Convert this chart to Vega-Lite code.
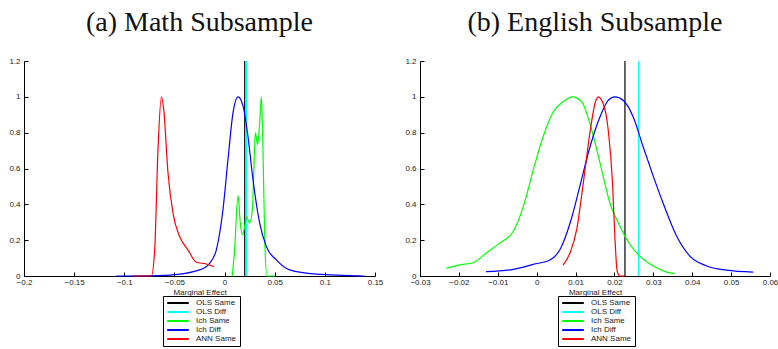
{
  "$schema": "https://vega.github.io/schema/vega-lite/v6.json",
  "padding": {"left": 8, "top": 9, "right": 2, "bottom": 0},
  "background": "white",
  "datasets": {
    "vlines": [
      {"p": "a", "s": "OLS Same", "x": 0.0201},
      {"p": "a", "s": "OLS Diff", "x": 0.0218},
      {"p": "b", "s": "OLS Same", "x": 0.0227},
      {"p": "b", "s": "OLS Diff", "x": 0.0262}
    ],
    "curves": [
      {"p": "a", "s": "Ich Same", "x": 0.0077, "y": 0},
      {"p": "a", "s": "Ich Same", "x": 0.0100, "y": 0.146},
      {"p": "a", "s": "Ich Same", "x": 0.0134, "y": 0.45},
      {"p": "a", "s": "Ich Same", "x": 0.0157, "y": 0.295},
      {"p": "a", "s": "Ich Same", "x": 0.0177, "y": 0.23},
      {"p": "a", "s": "Ich Same", "x": 0.0200, "y": 0.276},
      {"p": "a", "s": "Ich Same", "x": 0.0217, "y": 0.332},
      {"p": "a", "s": "Ich Same", "x": 0.0250, "y": 0.295},
      {"p": "a", "s": "Ich Same", "x": 0.0277, "y": 0.37},
      {"p": "a", "s": "Ich Same", "x": 0.0290, "y": 0.556},
      {"p": "a", "s": "Ich Same", "x": 0.0307, "y": 0.8},
      {"p": "a", "s": "Ich Same", "x": 0.0330, "y": 0.733},
      {"p": "a", "s": "Ich Same", "x": 0.0350, "y": 0.855},
      {"p": "a", "s": "Ich Same", "x": 0.0367, "y": 1.0},
      {"p": "a", "s": "Ich Same", "x": 0.0383, "y": 0.705},
      {"p": "a", "s": "Ich Same", "x": 0.0400, "y": 0.22},
      {"p": "a", "s": "Ich Same", "x": 0.0423, "y": 0},
      {"p": "a", "s": "Ich Same", "x": 0.0500, "y": 0},
      {"p": "a", "s": "Ich Diff", "x": -0.108, "y": 0},
      {"p": "a", "s": "Ich Diff", "x": -0.058, "y": 0.004},
      {"p": "a", "s": "Ich Diff", "x": -0.0248, "y": 0.034},
      {"p": "a", "s": "Ich Diff", "x": -0.0149, "y": 0.071},
      {"p": "a", "s": "Ich Diff", "x": -0.0082, "y": 0.146},
      {"p": "a", "s": "Ich Diff", "x": -0.0016, "y": 0.37},
      {"p": "a", "s": "Ich Diff", "x": 0.0034, "y": 0.65},
      {"p": "a", "s": "Ich Diff", "x": 0.0084, "y": 0.91},
      {"p": "a", "s": "Ich Diff", "x": 0.0134, "y": 1.0},
      {"p": "a", "s": "Ich Diff", "x": 0.0184, "y": 0.95},
      {"p": "a", "s": "Ich Diff", "x": 0.0233, "y": 0.78},
      {"p": "a", "s": "Ich Diff", "x": 0.0283, "y": 0.54},
      {"p": "a", "s": "Ich Diff", "x": 0.0350, "y": 0.295},
      {"p": "a", "s": "Ich Diff", "x": 0.0417, "y": 0.164},
      {"p": "a", "s": "Ich Diff", "x": 0.0516, "y": 0.09},
      {"p": "a", "s": "Ich Diff", "x": 0.0650, "y": 0.034},
      {"p": "a", "s": "Ich Diff", "x": 0.0915, "y": 0.01},
      {"p": "a", "s": "Ich Diff", "x": 0.1397, "y": 0},
      {"p": "a", "s": "ANN Same", "x": -0.0913, "y": 0},
      {"p": "a", "s": "ANN Same", "x": -0.0730, "y": 0},
      {"p": "a", "s": "ANN Same", "x": -0.0697, "y": 0.146},
      {"p": "a", "s": "ANN Same", "x": -0.0664, "y": 0.705},
      {"p": "a", "s": "ANN Same", "x": -0.0630, "y": 1.0},
      {"p": "a", "s": "ANN Same", "x": -0.0607, "y": 0.93},
      {"p": "a", "s": "ANN Same", "x": -0.0564, "y": 0.575},
      {"p": "a", "s": "ANN Same", "x": -0.0514, "y": 0.35},
      {"p": "a", "s": "ANN Same", "x": -0.0448, "y": 0.22},
      {"p": "a", "s": "ANN Same", "x": -0.0365, "y": 0.146},
      {"p": "a", "s": "ANN Same", "x": -0.0281, "y": 0.077},
      {"p": "a", "s": "ANN Same", "x": -0.0182, "y": 0.067},
      {"p": "a", "s": "ANN Same", "x": -0.0106, "y": 0.052},
      {"p": "b", "s": "Ich Same", "x": -0.0233, "y": 0.043},
      {"p": "b", "s": "Ich Same", "x": -0.0201, "y": 0.061},
      {"p": "b", "s": "Ich Same", "x": -0.0163, "y": 0.074},
      {"p": "b", "s": "Ich Same", "x": -0.0129, "y": 0.13},
      {"p": "b", "s": "Ich Same", "x": -0.0094, "y": 0.185},
      {"p": "b", "s": "Ich Same", "x": -0.0060, "y": 0.25},
      {"p": "b", "s": "Ich Same", "x": -0.0034, "y": 0.39},
      {"p": "b", "s": "Ich Same", "x": -0.0009, "y": 0.59},
      {"p": "b", "s": "Ich Same", "x": 0.0017, "y": 0.78},
      {"p": "b", "s": "Ich Same", "x": 0.0043, "y": 0.917},
      {"p": "b", "s": "Ich Same", "x": 0.0068, "y": 0.972},
      {"p": "b", "s": "Ich Same", "x": 0.0092, "y": 1.0},
      {"p": "b", "s": "Ich Same", "x": 0.0116, "y": 0.972},
      {"p": "b", "s": "Ich Same", "x": 0.0137, "y": 0.85},
      {"p": "b", "s": "Ich Same", "x": 0.0163, "y": 0.63},
      {"p": "b", "s": "Ich Same", "x": 0.0188, "y": 0.41},
      {"p": "b", "s": "Ich Same", "x": 0.0214, "y": 0.278},
      {"p": "b", "s": "Ich Same", "x": 0.0240, "y": 0.176},
      {"p": "b", "s": "Ich Same", "x": 0.0265, "y": 0.111},
      {"p": "b", "s": "Ich Same", "x": 0.0300, "y": 0.056},
      {"p": "b", "s": "Ich Same", "x": 0.0334, "y": 0.022},
      {"p": "b", "s": "Ich Same", "x": 0.0355, "y": 0.013},
      {"p": "b", "s": "Ich Diff", "x": -0.0130, "y": 0.024},
      {"p": "b", "s": "Ich Diff", "x": -0.0060, "y": 0.037},
      {"p": "b", "s": "Ich Diff", "x": -0.0009, "y": 0.065},
      {"p": "b", "s": "Ich Diff", "x": 0.0034, "y": 0.089},
      {"p": "b", "s": "Ich Diff", "x": 0.0060, "y": 0.148},
      {"p": "b", "s": "Ich Diff", "x": 0.0086, "y": 0.296},
      {"p": "b", "s": "Ich Diff", "x": 0.0111, "y": 0.5},
      {"p": "b", "s": "Ich Diff", "x": 0.0137, "y": 0.72},
      {"p": "b", "s": "Ich Diff", "x": 0.0163, "y": 0.889},
      {"p": "b", "s": "Ich Diff", "x": 0.0184, "y": 0.98},
      {"p": "b", "s": "Ich Diff", "x": 0.0201, "y": 1.0},
      {"p": "b", "s": "Ich Diff", "x": 0.0223, "y": 0.98},
      {"p": "b", "s": "Ich Diff", "x": 0.0248, "y": 0.889},
      {"p": "b", "s": "Ich Diff", "x": 0.0274, "y": 0.72},
      {"p": "b", "s": "Ich Diff", "x": 0.0300, "y": 0.556},
      {"p": "b", "s": "Ich Diff", "x": 0.0325, "y": 0.407},
      {"p": "b", "s": "Ich Diff", "x": 0.0360, "y": 0.222},
      {"p": "b", "s": "Ich Diff", "x": 0.0394, "y": 0.111},
      {"p": "b", "s": "Ich Diff", "x": 0.0437, "y": 0.056},
      {"p": "b", "s": "Ich Diff", "x": 0.0488, "y": 0.033},
      {"p": "b", "s": "Ich Diff", "x": 0.0557, "y": 0.022},
      {"p": "b", "s": "ANN Same", "x": 0.0068, "y": 0.061},
      {"p": "b", "s": "ANN Same", "x": 0.0086, "y": 0.13},
      {"p": "b", "s": "ANN Same", "x": 0.0103, "y": 0.26},
      {"p": "b", "s": "ANN Same", "x": 0.0120, "y": 0.52},
      {"p": "b", "s": "ANN Same", "x": 0.0137, "y": 0.8},
      {"p": "b", "s": "ANN Same", "x": 0.0150, "y": 0.963},
      {"p": "b", "s": "ANN Same", "x": 0.0158, "y": 1.0},
      {"p": "b", "s": "ANN Same", "x": 0.0171, "y": 0.963},
      {"p": "b", "s": "ANN Same", "x": 0.0184, "y": 0.815},
      {"p": "b", "s": "ANN Same", "x": 0.0195, "y": 0.52},
      {"p": "b", "s": "ANN Same", "x": 0.0201, "y": 0.222},
      {"p": "b", "s": "ANN Same", "x": 0.0207, "y": 0.028},
      {"p": "b", "s": "ANN Same", "x": 0.0214, "y": 0},
      {"p": "b", "s": "ANN Same", "x": 0.0229, "y": 0}
    ]
  },
  "spacing": 21,
  "resolve": {"scale": {"color": "independent"}, "legend": {"color": "independent"}},
  "hconcat": [
    {
      "width": 351,
      "height": 215,
      "title": {"text": "(a) Math Subsample"},
      "layer": [
        {
          "data": {"name": "vlines"},
          "transform": [{"filter": "datum.p === 'a'"}],
          "mark": {"type": "rule", "strokeWidth": 1.2},
          "encoding": {
            "x": {"field": "x", "type": "quantitative", "scale": {"domain": [-0.2, 0.15], "nice": false, "zero": false}, "axis": {"values": [-0.2, -0.15, -0.1, -0.05, 0, 0.05, 0.1, 0.15], "tickCount": 20, "title": "Marginal Effect", "labelOverlap": false}},
            "color": {"field": "s", "type": "nominal", "scale": {"domain": ["OLS Same", "OLS Diff", "Ich Same", "Ich Diff", "ANN Same"], "range": ["#000000", "#00ffff", "#00ff00", "#0000ff", "#ff0000"]}, "legend": {"orient": "none", "legendX": 139, "legendY": 235}}
          }
        },
        {
          "data": {"name": "curves"},
          "transform": [{"filter": "datum.p === 'a'"}],
          "mark": {"type": "line", "strokeWidth": 1.2, "interpolate": "monotone"},
          "encoding": {
            "x": {"field": "x", "type": "quantitative"},
            "y": {"field": "y", "type": "quantitative", "scale": {"domain": [0, 1.2], "nice": false}, "axis": {"values": [0, 0.2, 0.4, 0.6, 0.8, 1, 1.2], "tickCount": 20, "title": null, "labelOverlap": false}},
            "color": {"field": "s", "type": "nominal"}
          }
        }
      ]
    },
    {
      "width": 350,
      "height": 215,
      "title": {"text": "(b) English Subsample"},
      "layer": [
        {
          "data": {"name": "vlines"},
          "transform": [{"filter": "datum.p === 'b'"}],
          "mark": {"type": "rule", "strokeWidth": 1.2},
          "encoding": {
            "x": {"field": "x", "type": "quantitative", "scale": {"domain": [-0.03, 0.06], "nice": false, "zero": false}, "axis": {"values": [-0.03, -0.02, -0.01, 0, 0.01, 0.02, 0.03, 0.04, 0.05, 0.06], "tickCount": 20, "title": "Marginal Effect", "labelOverlap": false}},
            "color": {"field": "s", "type": "nominal", "scale": {"domain": ["OLS Same", "OLS Diff", "Ich Same", "Ich Diff", "ANN Same"], "range": ["#000000", "#00ffff", "#00ff00", "#0000ff", "#ff0000"]}, "legend": {"orient": "none", "legendX": 138, "legendY": 235}}
          }
        },
        {
          "data": {"name": "curves"},
          "transform": [{"filter": "datum.p === 'b'"}],
          "mark": {"type": "line", "strokeWidth": 1.2, "interpolate": "monotone"},
          "encoding": {
            "x": {"field": "x", "type": "quantitative"},
            "y": {"field": "y", "type": "quantitative", "scale": {"domain": [0, 1.2], "nice": false}, "axis": {"values": [0, 0.2, 0.4, 0.6, 0.8, 1, 1.2], "tickCount": 20, "title": null, "labelOverlap": false}},
            "color": {"field": "s", "type": "nominal"}
          }
        }
      ]
    }
  ],
  "config": {
    "view": {"stroke": null},
    "title": {"font": "Liberation Serif", "fontSize": 28, "fontWeight": "normal", "color": "#111", "anchor": "middle", "offset": 20},
    "axis": {
      "grid": false, "domainColor": "#000", "domainWidth": 1, "tickColor": "#000", "tickWidth": 1, "tickSize": -4,
      "labelFont": "Liberation Sans", "labelFontSize": 8, "labelColor": "#222", "labelFlush": false, "labelOverlap": false, "format": "~g",
      "titleFont": "Liberation Sans", "titleFontSize": 8, "titleFontWeight": "normal", "titleColor": "#222", "titlePadding": 2
    },
    "axisX": {"labelPadding": 6},
    "axisY": {"labelPadding": 8},
    "legend": {
      "title": null, "symbolType": "M-3.6,0H3.6", "symbolSize": 36, "symbolStrokeWidth": 2, "symbolOffset": 8,
      "labelFont": "Liberation Sans", "labelFontSize": 8, "labelColor": "#222",
      "strokeColor": "#000", "fillColor": "#fff", "padding": 3, "rowPadding": 1, "labelOffset": 14
    }
  }
}
